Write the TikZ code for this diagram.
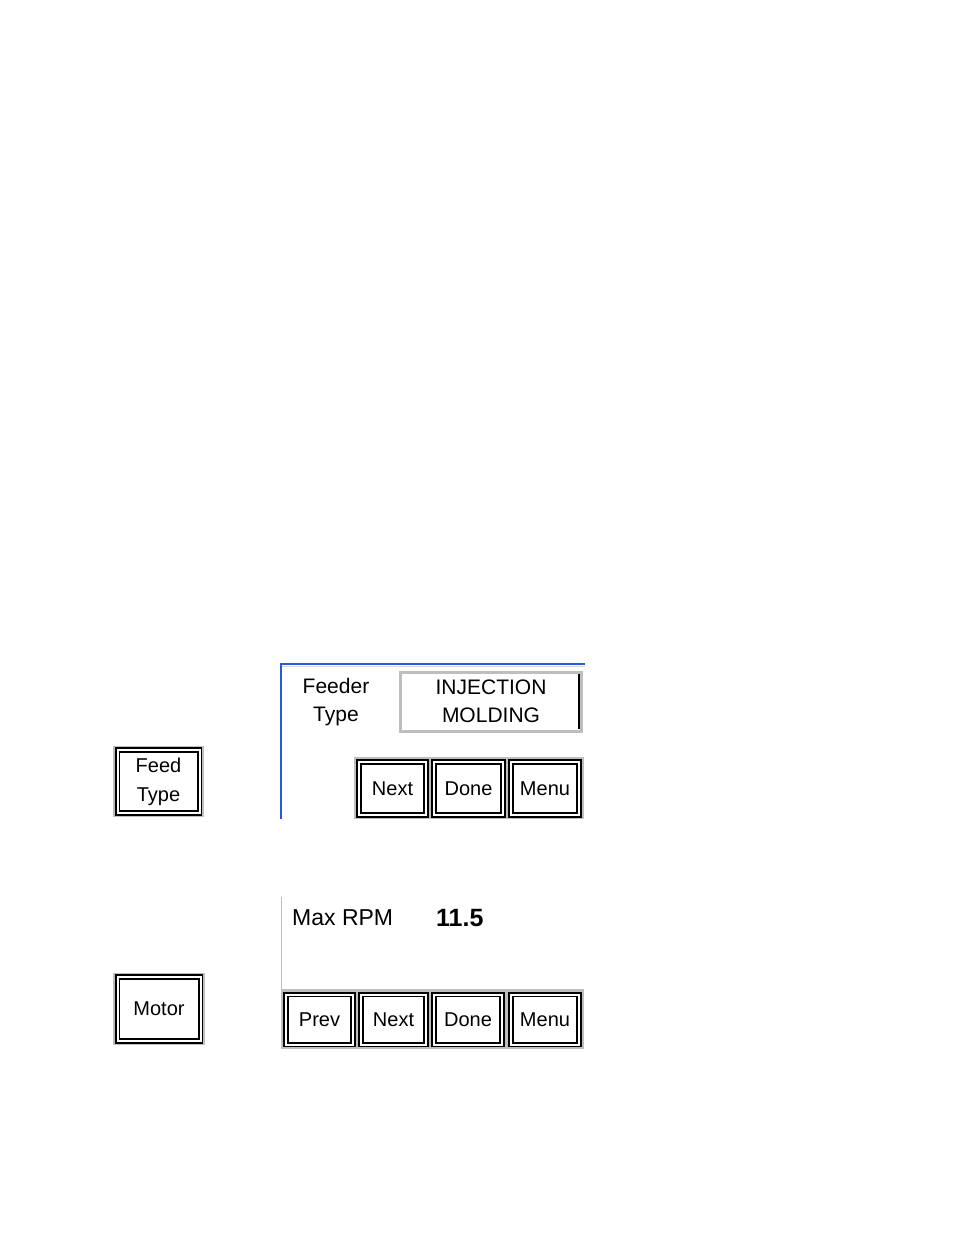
\documentclass[tikz,border=0pt]{standalone}
\usepackage{fontspec}
\setmainfont{Liberation Sans}
\definecolor{xpblue}{RGB}{40,90,215}
\definecolor{rimgray}{RGB}{190,190,190}
\tikzset{
  x=1pt, y=-1pt,
  btn/.style={draw=black, line width=1.8pt, double=white, double distance=2pt,
    fill=white, inner sep=0pt, font=\fontsize{20}{29}\selectfont, align=center},
  freebtn/.style={btn, preaction={draw=rimgray, line width=8.5pt}},
  lbl/.style={inner sep=0pt, font=\fontsize{21}{28}\selectfont, align=center},
}
\begin{document}
\begin{tikzpicture}
\useasboundingbox (0,0) rectangle (954,1235);
% ---------- panel 1 ----------
\path[fill=white] (281,664) rectangle (585,819);
\draw[rimgray!60, line width=1pt] (282,666.5) -- (585,666.5);
\draw[xpblue, line width=1.6pt] (281,819) -- (281,664) -- (585,664);
\draw[rimgray, line width=3pt, fill=white] (400.5,672.5) rectangle (581.5,731.5);
\draw[black, line width=2pt] (578.5,674) -- (578.5,729);
\node[lbl] (feeder) at (336,702) {Feeder\\Type};
\node[lbl] (value) at (491,701) {INJECTION\\MOLDING};
\path[fill=rimgray] (354,757) rectangle (584,819);
\node[btn, minimum width=67pt, minimum height=53pt] (next1) at (392.5,788.5) {Next};
\node[btn, minimum width=69pt, minimum height=53pt] (done1) at (468.5,788.5) {Done};
\node[btn, minimum width=68pt, minimum height=53pt] (menu1) at (545,788.5) {Menu};
% ---------- panel 2 ----------
\path[fill=white] (281,897) rectangle (583,1048);
\draw[rimgray, line width=1.2pt] (281.5,897) -- (281.5,990);
\node[anchor=base west, inner sep=0pt, font=\fontsize{23}{28}\selectfont] (maxrpm) at (292,925) {Max RPM};
\node[anchor=base west, inner sep=0pt, font=\fontsize{25}{30}\selectfont\bfseries] (rpmval) at (436,926.5) {11.5};
\path[fill=rimgray] (281,989) rectangle (584,1048.5);
\node[btn, minimum width=67pt, minimum height=50pt] (prev2) at (319.5,1019.5) {Prev};
\node[btn, minimum width=65pt, minimum height=50pt] (next2) at (393.5,1019.5) {Next};
\node[btn, minimum width=68pt, minimum height=50pt] (done2) at (468,1019.5) {Done};
\node[btn, minimum width=68pt, minimum height=50pt] (menu2) at (545,1019.5) {Menu};
% ---------- left buttons ----------
\node[freebtn, minimum width=82pt, minimum height=63pt] (feedtype) at (158.5,781.5) {Feed\\Type};
\node[freebtn, minimum width=83pt, minimum height=64pt] (motor) at (159,1009) {Motor};
\end{tikzpicture}
\end{document}
